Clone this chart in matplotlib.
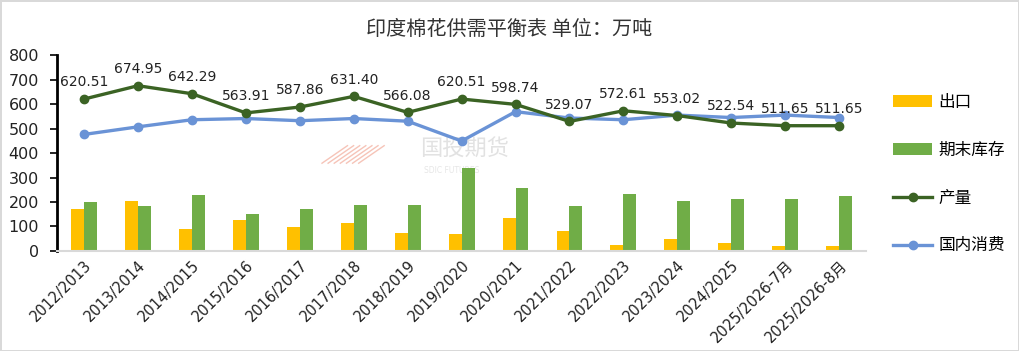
import numpy as np
import matplotlib.pyplot as plt

plt.rcParams['font.family'] = ['Noto Sans CJK SC', 'DejaVu Sans']

categories = ['2012/2013', '2013/2014', '2014/2015', '2015/2016', '2016/2017',
              '2017/2018', '2018/2019', '2019/2020', '2020/2021', '2021/2022',
              '2022/2023', '2023/2024', '2024/2025', '2025/2026-7月', '2025/2026-8月']
export = [170, 203, 89, 126, 97, 114, 75, 70, 134, 81, 25, 48, 32, 21, 21]
stock = [199, 185, 230, 152, 170, 189, 189, 339, 259, 182, 234, 203, 214, 211, 223]
production = [620.51, 674.95, 642.29, 563.91, 587.86, 631.40, 566.08, 620.51,
              598.74, 529.07, 572.61, 553.02, 522.54, 511.65, 511.65]
consumption = [476, 507, 536, 541, 532, 541, 530, 449, 569, 543, 536, 555, 545, 555, 545]

c_export = '#FFC000'
c_stock = '#70AD47'
c_prod = '#3B6324'
c_cons = '#6A93D6'
latin = ['DejaVu Sans', 'Noto Sans CJK SC']

fig = plt.figure(figsize=(10.19, 3.51), dpi=100)
fig.patch.set_edgecolor('#D9D9D9')
fig.patch.set_linewidth(2)
ax = fig.add_axes([0.056, 0.285, 0.794, 0.558])
ax.patch.set_alpha(0)

x = np.arange(len(categories))
w = 0.24
b1 = ax.bar(x - w / 2, export, w, color=c_export, label='出口', zorder=2)
b2 = ax.bar(x + w / 2, stock, w, color=c_stock, label='期末库存', zorder=2)
l1, = ax.plot(x, production, color=c_prod, lw=2.4, marker='o', ms=6, label='产量', zorder=4)
l2, = ax.plot(x, consumption, color=c_cons, lw=2.4, marker='o', ms=6, label='国内消费', zorder=3)

for xi, v in zip(x, production):
    ax.annotate('%.2f' % v, (xi, v), xytext=(0, 7), textcoords='offset points',
                ha='center', va='bottom', fontsize=10, color='#222222',
                family=latin, zorder=5)

# watermark (logo stripes + name), behind the axes
for k in range(7):
    fig.add_artist(plt.Line2D([0.316 + k * 0.006, 0.341 + k * 0.006],
                              [0.535, 0.585],
                              color='#F6C4B8', lw=1, zorder=-1))
fig.text(0.412, 0.575, '国投期货', fontsize=16, color='#E2E2E2',
         ha='left', va='center', zorder=-1)
fig.text(0.416, 0.515, 'SDIC FUTURES', fontsize=5.5, color='#E6E6E6',
         ha='left', va='center', zorder=-1, family=latin)

ax.set_xlim(-0.5, len(categories) - 0.5)
ax.set_ylim(0, 800)
ax.set_yticks(range(0, 801, 100))
ax.set_xticks(x)
ax.set_xticklabels(categories, rotation=45, ha='right', rotation_mode='anchor',
                   fontsize=10.5, family=latin, color='#222222')
for lab in ax.get_yticklabels():
    lab.set_fontsize(11.5)
    lab.set_family(latin)
    lab.set_color('#222222')
ax.tick_params(axis='x', length=0, pad=5)
ax.tick_params(axis='y', length=5, width=1.2, direction='out', pad=8)
for s in ['top', 'right']:
    ax.spines[s].set_visible(False)
ax.spines['left'].set_linewidth(2)
ax.spines['bottom'].set_color('#D9D9D9')
ax.spines['bottom'].set_linewidth(1.5)

fig.text(0.5, 0.915, '印度棉花供需平衡表 单位：万吨', ha='center', va='center',
         fontsize=14.5, color='#333333')

fig.legend([b1, b2, l1, l2], ['出口', '期末库存', '产量', '国内消费'],
           loc='upper left', bbox_to_anchor=(0.862, 0.775),
           frameon=False, fontsize=12, labelspacing=1.85, handlelength=2.3,
           handletextpad=0.4)

plt.savefig('out.png')
